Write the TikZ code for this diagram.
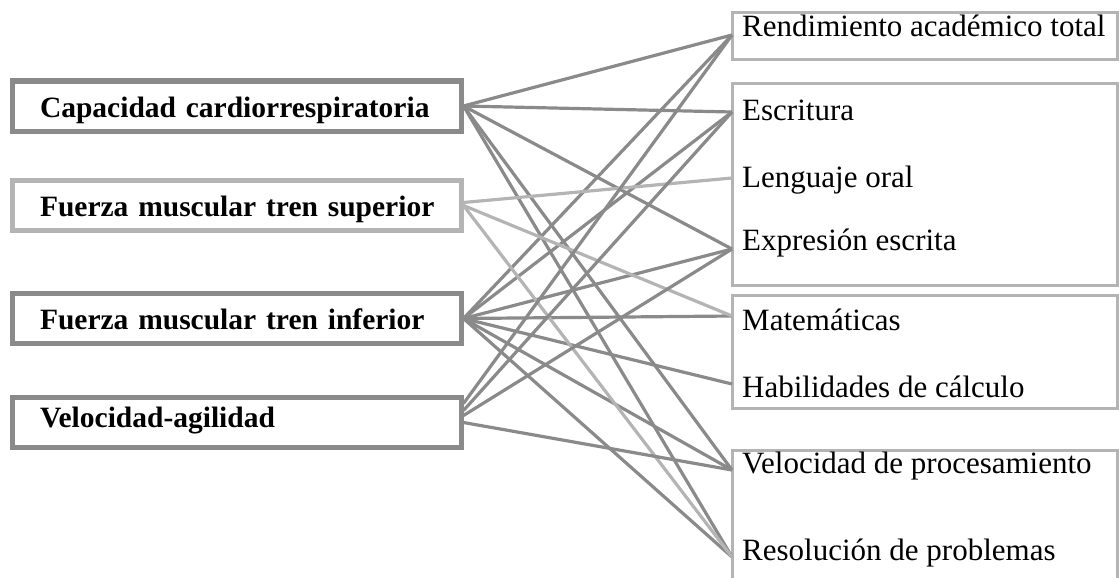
\documentclass[tikz,border=0pt]{standalone}
\usepackage{fontspec}
\setmainfont{Liberation Serif}
\definecolor{oscuro}{HTML}{8A8A8A}
\definecolor{claro}{HTML}{B4B4B4}
\begin{document}
\begin{tikzpicture}[x=1pt,y=-1pt,
		cualidad/.style={draw=#1,line width=5pt,fill=white,minimum height=50pt,text width=393pt,inner xsep=28pt,align=left,text height=24pt,text depth=2pt,font=\fontsize{29.5}{34}\selectfont\bfseries},
		area/.style={anchor=base west,inner sep=0pt,font=\fontsize{31}{36}\selectfont},
		caja/.style={draw=claro,line width=3pt},
		enlace/.style={draw=oscuro,line width=3.2pt},
		enlaceclaro/.style={draw=claro,line width=3.2pt}]
		\useasboundingbox (0,0) rectangle (1119,578);
		% condicion fisica
		\node[cualidad=oscuro] (cardio) at (236.5,106) {\mbox{Capacidad cardiorrespiratoria}};
		\node[cualidad=claro] (supe) at (236.5,205.5) {\mbox{Fuerza muscular tren superior}};
		\node[cualidad=oscuro] (infe) at (236.5,318.5) {\mbox{Fuerza muscular tren inferior}};
		\node[cualidad=oscuro,text height=17pt,text depth=8pt] (agil) at (236.5,422.5) {\mbox{Velocidad-agilidad}};
		% rendimiento academico
		\draw[caja] (732,13) rectangle (1117,60);
		\draw[caja] (732,83) rectangle (1117,285);
		\draw[caja] (732,295) rectangle (1117,408);
		\draw[caja] (732,450) rectangle (1117,600);
		\node[area] (rat-t) at (742,37) {Rendimiento académico total};
		\node[area] (esc-t) at (742,120) {Escritura};
		\node[area] (len-t) at (742,187) {Lenguaje oral};
		\node[area] (exp-t) at (742,250) {Expresión escrita};
		\node[area] (mat-t) at (742,330) {Matemáticas};
		\node[area] (hab-t) at (742,397) {Habilidades de cálculo};
		\node[area] (vel-t) at (742,473) {Velocidad de procesamiento};
		\node[area] (res-t) at (742,560) {Resolución de problemas};
		\coordinate (rat) at (732,35);
		\coordinate (esc) at (732,112);
		\coordinate (len) at (732,178);
		\coordinate (exp) at (732,249);
		\coordinate (mat) at (732,316);
		\coordinate (hab) at (732,384);
		\coordinate (vel) at (732,470);
		\coordinate (res) at (732,557);
		% asociaciones
		\foreach \a/\b in {cardio/rat,cardio/esc,cardio/exp,cardio/vel,cardio/res,
			infe/rat,infe/esc,infe/exp,infe/mat,infe/hab,infe/vel,infe/res}
		\draw[enlace] (\a.east) -- (\b);
		\draw[enlaceclaro] ([yshift=3pt]supe.east) -- (len);
		\draw[enlaceclaro] (supe.east) -- (mat);
		\draw[enlaceclaro] (supe.east) -- (res);
		\draw[enlace] ([yshift=19pt]agil.east) -- (rat);
		\draw[enlace] ([yshift=12pt]agil.east) -- (esc);
		\draw[enlace] ([yshift=7pt]agil.east) -- (exp);
		\draw[enlace] (agil.east) -- (vel);
\end{tikzpicture}
\end{document}
